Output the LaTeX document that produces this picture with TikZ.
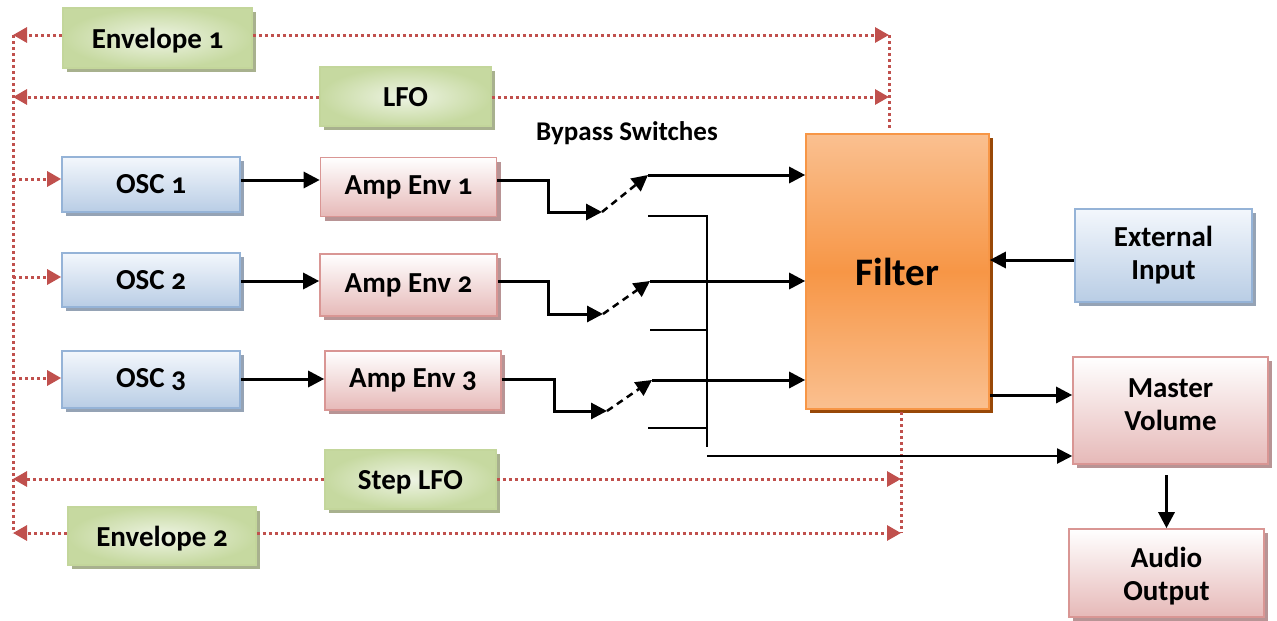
\documentclass[tikz,border=0pt]{standalone}
\usepackage{fontspec}
\setmainfont{Carlito}[Numbers=OldStyle]
\usetikzlibrary{arrows.meta,shadows}
\definecolor{dotred}{HTML}{C0504D}
\definecolor{bblue}{HTML}{95B3D7}
\definecolor{bluetop}{HTML}{F3F7FC}
\definecolor{bluebot}{HTML}{B9CDE5}
\definecolor{bshadow}{HTML}{95A3B5}
\definecolor{bpink}{HTML}{D99694}
\definecolor{pinktop}{HTML}{FFFFFF}
\definecolor{pinkbot}{HTML}{E6B9B8}
\definecolor{pshadow}{HTML}{B89495}
\definecolor{bgreen}{HTML}{C3D69B}
\definecolor{greenin}{HTML}{EEF4E4}
\definecolor{greenout}{HTML}{C6D9A0}
\definecolor{gshadow}{HTML}{A8B18E}
\definecolor{borange}{HTML}{F79646}
\definecolor{orangelt}{HTML}{FAC090}
\definecolor{oshadow}{HTML}{984807}
\begin{document}
\begin{tikzpicture}[x=1pt,y=-1pt,
  box/.style={draw, line width=1.6pt, inner sep=0pt, align=center,
    font=\bfseries\fontsize{29}{33}\selectfont},
  bluebox/.style={box, draw=bblue, top color=bluetop, bottom color=bluebot,
    general shadow={fill=bshadow, shadow xshift=4pt, shadow yshift=-4pt}},
  pinkbox/.style={box, draw=bpink, top color=pinktop, bottom color=pinkbot,
    general shadow={fill=pshadow, shadow xshift=4pt, shadow yshift=-4pt}},
  greenbox/.style={box, draw=bgreen, inner color=greenin, outer color=greenout, text depth=0pt,
    general shadow={fill=gshadow, shadow xshift=4pt, shadow yshift=-4pt}},
  orangebox/.style={box, draw=borange, top color=orangelt, bottom color=orangelt, middle color=borange,
    general shadow={fill=oshadow, shadow xshift=4pt, shadow yshift=-4pt},
    font=\bfseries\fontsize{39}{44}\selectfont},
  dotline/.style={draw=dotred, line width=3pt, dash pattern=on 3pt off 3pt},
  dotarrow/.style={dotline, -{Triangle[length=14pt,width=15pt,fill=dotred]}},
  conn/.style={draw=black, line width=3pt, -{Triangle[length=16pt,width=16pt]}},
  dashconn/.style={draw=black, line width=2.5pt, dash pattern=on 7pt off 5pt, -{Triangle[length=16pt,width=16pt]}},
  busline/.style={draw=black, line width=2pt},
  busarrow/.style={draw=black, line width=2pt, -{Triangle[length=15pt,width=15pt]}}
]
\useasboundingbox (0,0) rectangle (1277,621);

% nodes
\node[greenbox, minimum width=189pt, minimum height=60pt] (env1) at (157.5,38) {Envelope 1};
\node[greenbox, minimum width=171pt, minimum height=59pt] (lfo) at (405.5,96.5) {LFO};
\node[bluebox, minimum width=178pt, minimum height=55pt] (osc1) at (151,184.5) {OSC 1};
\node[bluebox, minimum width=178pt, minimum height=54pt] (osc2) at (151,280) {OSC 2};
\node[bluebox, minimum width=178pt, minimum height=57pt] (osc3) at (151,379.5) {OSC 3};
\node[pinkbox, minimum width=176pt, minimum height=59pt] (amp1) at (408.5,187) {Amp Env 1};
\node[pinkbox, minimum width=177pt, minimum height=62pt] (amp2) at (408.5,285) {Amp Env 2};
\node[pinkbox, minimum width=176pt, minimum height=59pt] (amp3) at (413,380.5) {Amp Env 3};
\node[orangebox, minimum width=183pt, minimum height=275pt] (filter) at (897.5,271.5) {Filter};
\node[bluebox, minimum width=177pt, minimum height=93pt] (ext) at (1163.5,255.5) {External\\Input};
\node[pinkbox, minimum width=195pt, minimum height=107pt] (master) at (1170.5,410.5) {Master\\Volume\rule[-12pt]{0pt}{0pt}};
\node[pinkbox, minimum width=195pt, minimum height=88pt] (audio) at (1166.5,573) {\rule{0pt}{26pt}Audio\\Output};
\node[greenbox, minimum width=171pt, minimum height=59pt] (steplfo) at (410.5,479.5) {Step LFO};
\node[greenbox, minimum width=188pt, minimum height=58pt] (env2) at (162,536) {Envelope 2};
\node[font=\bfseries\fontsize{27}{30}\selectfont] (bypass) at (627,133) {Bypass Switches};

% coordinates for the modulation bus
\coordinate (LT) at (13,35);
\coordinate (LB) at (13,533);
\coordinate (RT) at (889,35);
\coordinate (RTb) at (889,128);
\coordinate (RBt) at (901,412);
\coordinate (RB) at (901,533);
\coordinate (L2) at (13,97);
\coordinate (R2) at (889,97);
\coordinate (L3) at (13,479);
\coordinate (R3) at (901,479);
\coordinate (o1) at (13,179);
\coordinate (o2) at (13,277);
\coordinate (o3) at (13,378);

\draw[dotline] (LT) -- (LB);
\draw[dotline] (RT) -- (RTb);
\draw[dotline] (RBt) -- (RB);
\draw[dotarrow] (LT -| env1.west) -- (LT);
\draw[dotarrow] (LT -| env1.east) -- (RT);
\draw[dotarrow] (L2 -| lfo.west) -- (L2);
\draw[dotarrow] (L2 -| lfo.east) -- (R2);
\draw[dotarrow] (L3 -| steplfo.west) -- (L3);
\draw[dotarrow] (L3 -| steplfo.east) -- (R3);
\draw[dotarrow] (LB -| env2.west) -- (LB);
\draw[dotarrow] (LB -| env2.east) -- (RB);
\draw[dotarrow] (o1) -- (o1 -| osc1.west);
\draw[dotarrow] (o2) -- (o2 -| osc2.west);
\draw[dotarrow] (o3) -- (o3 -| osc3.west);

% audio path
\coordinate (r1) at (0,180);
\coordinate (r2) at (0,281);
\coordinate (r3) at (0,379);
\draw[conn] (osc1.east |- r1) -- (amp1.west |- r1);
\draw[conn] (osc2.east |- r2) -- (amp2.west |- r2);
\draw[conn] (osc3.east |- r3) -- (amp3.west |- r3);

\coordinate (sw1) at (602,212);
\coordinate (sw1o) at (648,175);
\coordinate (sw2) at (603,314);
\coordinate (sw2o) at (650,281);
\coordinate (sw3) at (607,411);
\coordinate (sw3o) at (652,380);

\draw[conn] (amp1.east |- r1) -- ++(51,0) |- (sw1);
\draw[conn] (amp2.east |- r2) -- ++(51,0) |- (sw2);
\draw[conn] (amp3.east |- r3) -- ++(53,0) |- (sw3);
\draw[dashconn] (sw1) -- (sw1o);
\draw[dashconn] (sw2) -- (sw2o);
\draw[dashconn] (sw3) -- (sw3o);
\draw[conn] (sw1o) -- (sw1o -| filter.west);
\draw[conn] (sw2o) -- (sw2o -| filter.west);
\draw[conn] (sw3o) -- (sw3o -| filter.west);

% bypass bus
\coordinate (b1) at (648,216);
\coordinate (bx) at (707,216);
\coordinate (bbot) at (707,447);
\coordinate (b2) at (650,330);
\coordinate (b3) at (648,428);
\coordinate (mv) at (707,456);
\draw[busline] (b1) -- (bx) -- (bbot);
\draw[busline] (b2) -- (b2 -| bx);
\draw[busline] (b3) -- (b3 -| bx);
\draw[busarrow] (mv) -- (mv -| master.west);

% right side
\coordinate (r4) at (0,395);
\coordinate (r5) at (0,260);
\coordinate (ao) at (0,475);
\draw[conn] (ext.west |- r5) -- (filter.east |- r5);
\draw[conn] (filter.east |- r4) -- (master.west |- r4);
\draw[conn] (audio.north |- ao) -- (audio.north);
\end{tikzpicture}
\end{document}
